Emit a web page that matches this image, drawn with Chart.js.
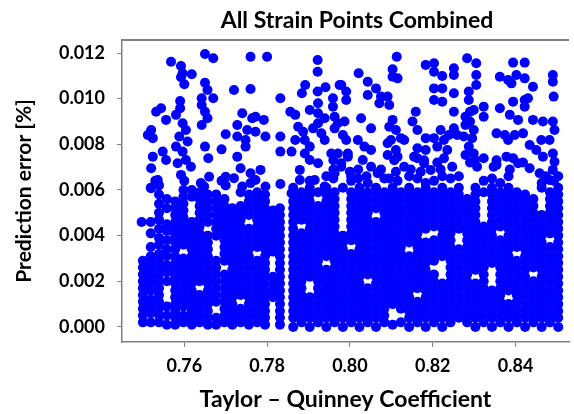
<!DOCTYPE html>
<html>
<head>
<meta charset="utf-8">
<script src="https://cdn.jsdelivr.net/npm/chart.js@4/dist/chart.umd.min.js"></script>
<style>
  html, body { margin: 0; padding: 0; background: #fff; }
</style>
</head>
<body>
<canvas id="chart" width="574" height="414"></canvas>
<script>
const chartTitle = 'All Strain Points Combined';
const xAxisTitle = 'Taylor – Quinney Coefficient';
const yAxisTitle = 'Prediction error [%]';
const xTicks = [0.76, 0.78, 0.80, 0.82, 0.84];
const yTicks = [0, 0.002, 0.004, 0.006, 0.008, 0.010, 0.012];

// scattered points above the dense band: [coefficient, error]
const upperPoints = [
  [0.7568,0.01162],[0.7650,0.01196],[0.7670,0.01177],[0.7760,0.01184],[0.7800,0.01184],
  [0.7592,0.01143],[0.7596,0.01111],[0.7592,0.01094],[0.7618,0.01107],[0.7600,0.01063],
  [0.7650,0.01070],[0.7656,0.01038],[0.7670,0.01002],
  [0.7642,0.01002],[0.7642,0.00972],[0.7650,0.00943],[0.7656,0.00914],[0.7642,0.00885],
  [0.7720,0.01038],[0.7760,0.01042],[0.7832,0.01002],
  [0.7544,0.00958],[0.7532,0.00943],[0.7590,0.00990],[0.7590,0.00958],[0.7580,0.00929],
  [0.7556,0.00907],[0.7520,0.00863],[0.7512,0.00841],[0.7524,0.00827],
  [0.7740,0.00936],[0.7764,0.00914],[0.7792,0.00907],[0.7772,0.00921],
  [0.7728,0.00885],[0.7752,0.00863],[0.7772,0.00855],[0.7796,0.00834],[0.7728,0.00834],[0.7748,0.00819],[0.7748,0.00790],
  [0.7700,0.00844],[0.7690,0.00778],[0.7650,0.00790],[0.7658,0.00739],[0.7728,0.00746],
  [0.7832,0.00834],[0.7832,0.00768],[0.7832,0.00626],
  [0.7596,0.00892],[0.7604,0.00863],[0.7588,0.00834],[0.7608,0.00812],[0.7580,0.00790],[0.7596,0.00768],
  [0.7604,0.00731],[0.7584,0.00717],[0.7616,0.00702],[0.7592,0.00666],
  [0.7524,0.00746],[0.7548,0.00768],[0.7520,0.00695],[0.7556,0.00731],[0.7536,0.00644],[0.7520,0.00608],
  [0.7736,0.00695],[0.7760,0.00673],[0.7784,0.00688],[0.7772,0.00644],[0.7796,0.00615],[0.7740,0.00615],[0.7720,0.00651],
  [0.7700,0.00658],[0.7660,0.00658],[0.7648,0.00615],[0.7497,0.00460],
  [0.7640,0.00630],[0.7700,0.00620],[0.7760,0.00630],[0.7600,0.00640],[0.7530,0.00640],[0.7690,0.00640],
  [0.7856,0.00943],[0.7868,0.00929],[0.7892,0.01060],[0.7884,0.01024],[0.7922,0.01169],[0.7922,0.01118],
  [0.7922,0.01031],[0.7941,0.01050],[0.7975,0.01060],
  [0.7923,0.00980],[0.7903,0.00950],[0.7923,0.00936],[0.7939,0.00914],
  [0.7959,0.01002],[0.7959,0.00965],[0.7963,0.00921],[0.7963,0.00870],
  [0.7875,0.00877],[0.7887,0.00855],[0.7868,0.00819],[0.7891,0.00819],[0.7911,0.00870],[0.7903,0.00790],
  [0.7859,0.00768],[0.7891,0.00760],[0.7923,0.00892],[0.7931,0.00848],[0.7939,0.00819],
  [0.7903,0.00731],[0.7923,0.00717],[0.7879,0.00688],[0.7879,0.00644],[0.7859,0.00586],
  [0.7955,0.00760],[0.7979,0.00717],[0.7995,0.00746],[0.7963,0.00673],[0.7939,0.00615],[0.7915,0.00644],
  [0.8113,0.01184],[0.8103,0.01129],[0.8103,0.01096],[0.8115,0.01089],[0.8021,0.01111],
  [0.8043,0.01074],[0.8063,0.01045],[0.8043,0.01016],[0.8075,0.01009],[0.8091,0.01009],[0.8071,0.00980],[0.8095,0.00972],
  [0.7979,0.01060],[0.7991,0.01031],[0.7991,0.00994],
  [0.8183,0.01148],[0.8203,0.01155],[0.8203,0.01118],[0.8223,0.01099],[0.8251,0.01133],[0.8251,0.01104],
  [0.8203,0.01045],[0.8223,0.01045],[0.8203,0.00994],[0.8223,0.00987],[0.8251,0.01024],[0.8251,0.00943],
  [0.8283,0.01177],[0.8305,0.01155],[0.8305,0.01104],[0.8305,0.01060],[0.8287,0.01031],[0.8287,0.00994],
  [0.8299,0.00950],[0.8323,0.00965],[0.8323,0.00921],[0.8279,0.00921],
  [0.8394,0.01158],[0.8422,0.01158],
  [0.8362,0.01096],[0.8382,0.01082],[0.8402,0.01104],[0.8422,0.01089],[0.8442,0.01052],[0.8390,0.01067],
  [0.8490,0.01104],[0.8490,0.01074],[0.8492,0.01009],
  [0.8394,0.00987],[0.8422,0.00994],[0.8430,0.01002],[0.8422,0.00965],[0.8362,0.00958],[0.8386,0.00929],[0.8406,0.00907],
  [0.8442,0.00907],[0.8466,0.00900],[0.8490,0.00900],[0.8494,0.00863],[0.8482,0.00819],[0.8462,0.00819],
  [0.8159,0.00943],[0.8151,0.00900],[0.8163,0.00863],[0.8183,0.00827],
  [0.8103,0.00907],[0.8095,0.00877],[0.8111,0.00863],[0.8099,0.00819],[0.8123,0.00827],[0.8131,0.00819],
  [0.8051,0.00870],[0.8027,0.00914],
  [0.8219,0.00863],[0.8203,0.00827],[0.8227,0.00819],[0.8239,0.00841],
  [0.8290,0.00943],[0.8290,0.00900],[0.8279,0.00885],[0.8299,0.00863],[0.8275,0.00834],[0.8295,0.00827],
  [0.8251,0.00870],[0.8259,0.00841],
  [0.8354,0.00848],[0.8374,0.00841],[0.8398,0.00841],[0.8382,0.00819],[0.8418,0.00848],[0.8434,0.00797],
  [0.7971,0.00892],[0.7987,0.00900],[0.7983,0.00841],[0.7991,0.00819],
  [0.8019,0.00819],[0.8035,0.00790],[0.8051,0.00775],
  [0.8091,0.00805],[0.8111,0.00775],[0.8091,0.00753],
  [0.8163,0.00783],[0.8183,0.00775],[0.8163,0.00739],
  [0.8211,0.00790],[0.8235,0.00775],
  [0.8287,0.00790],[0.8299,0.00760],[0.8279,0.00753],[0.8302,0.00731],[0.8323,0.00739],
  [0.8354,0.00710],[0.8378,0.00746],[0.8394,0.00739],[0.8406,0.00717],
  [0.8450,0.00775],[0.8466,0.00746],[0.8490,0.00760],[0.8494,0.00724],
  [0.7971,0.00760],[0.7995,0.00760],[0.7979,0.00702],[0.8003,0.00658],
  [0.8031,0.00731],[0.8051,0.00702],[0.8067,0.00673],
  [0.8115,0.00746],[0.8131,0.00702],[0.8111,0.00680],
  [0.8155,0.00746],[0.8179,0.00717],[0.8195,0.00688],
  [0.8227,0.00739],[0.8247,0.00702],[0.8307,0.00702],[0.8347,0.00702],
  [0.8434,0.00695],[0.8458,0.00673],[0.8490,0.00688],[0.8482,0.00644],
  [0.8003,0.00640],[0.8083,0.00650],[0.8143,0.00660],[0.8203,0.00640],[0.8263,0.00660],[0.8323,0.00640],
  [0.8383,0.00660],[0.8503,0.00660],[0.7903,0.00640],[0.7943,0.00660],[0.8043,0.00630],
  [0.8183,0.00630],[0.8363,0.00630],[0.8463,0.00630],
  [0.7960,0.00690],[0.8000,0.00680],[0.8020,0.00690],[0.8075,0.00690],[0.8147,0.00690],[0.8171,0.00680],
  [0.8219,0.00690],[0.8386,0.00690],
  [0.7960,0.00730],[0.8107,0.00730],[0.8179,0.00730],[0.8211,0.00720],[0.8290,0.00720],[0.8354,0.00730],[0.8418,0.00720],
  [0.7960,0.00650],[0.8020,0.00650],[0.8040,0.00660],[0.8095,0.00650],[0.8115,0.00640],[0.8163,0.00650],
  [0.8223,0.00660],[0.8243,0.00650],[0.8343,0.00650],[0.8473,0.00660],[0.8493,0.00640]
];

// dense band below ~0.006, one column of errors per coefficient
const bandCoeffs = [
  0.7500,0.7519,0.7539,0.7558,0.7578,0.7598,0.7618,0.7637,0.7657,0.7677,0.7697,0.7716,0.7736,0.7756,0.7776,0.7795,0.7814,0.7831,
  0.7863,0.7883,0.7903,0.7923,0.7943,0.7963,0.7983,0.8003,0.8023,0.8043,0.8063,0.8083,0.8103,0.8123,0.8143,0.8163,0.8183,
  0.8203,0.8223,0.8243,0.8263,0.8283,0.8303,0.8323,0.8343,0.8363,0.8383,0.8403,0.8423,0.8443,0.8463,0.8483,0.8503
];
const bandErrors = [
  [.0002,.0005,.0008,.0011,.0014,.0017,.0020,.0023,.0026,.0029],
  [.0002,.0006,.0009,.0012,.0016,.0019,.0022,.0025,.0028,.0031,.0035,.0041,.0046,.0061],
  [.0002,.0005,.0008,.0011,.0014,.0017,.0020,.0023,.0026,.0029,.0032,.0036,.0039,.0043,.0047,.0050,.0054,.0058,.0062],
  [.0001,.0005,.0009,.0020,.0024,.0027,.0031,.0034,.0038,.0042,.0045,.0052,.0056],
  [.0001,.0004,.0007,.0010,.0013,.0016,.0019,.0022,.0025,.0028,.0031,.0034,.0037,.0040,.0043,.0046,.0049,.0052,.0055],
  [.0002,.0005,.0009,.0012,.0015,.0018,.0021,.0024,.0027,.0030,.0036,.0039,.0042,.0045,.0048,.0051,.0054,.0057,.0060],
  [.0001,.0004,.0007,.0010,.0013,.0016,.0019,.0022,.0025,.0028,.0031,.0034,.0037,.0040,.0043,.0046,.0057,.0060],
  [.0002,.0005,.0008,.0011,.0014,.0020,.0023,.0026,.0029,.0032,.0035,.0038,.0041,.0044,.0047,.0050,.0053,.0056,.0059],
  [.0001,.0004,.0007,.0010,.0013,.0016,.0019,.0022,.0025,.0028,.0031,.0034,.0037,.0040,.0046,.0049,.0052,.0055,.0058],
  [.0001,.0004,.0011,.0014,.0017,.0020,.0023,.0026,.0029,.0040,.0043,.0046,.0049,.0052,.0055,.0058],
  [.0002,.0005,.0008,.0011,.0014,.0017,.0020,.0023,.0029,.0032,.0035,.0038,.0041,.0044,.0047,.0050,.0053,.0056],
  [.0001,.0004,.0007,.0010,.0013,.0016,.0019,.0022,.0025,.0028,.0031,.0034,.0037,.0040,.0043,.0046,.0049,.0052],
  [.0002,.0005,.0008,.0014,.0017,.0020,.0023,.0026,.0029,.0032,.0035,.0038,.0041,.0044,.0047,.0050,.0053,.0059],
  [.0001,.0004,.0007,.0010,.0013,.0016,.0019,.0022,.0025,.0028,.0031,.0034,.0037,.0040,.0043,.0049,.0052,.0055,.0058],
  [.0002,.0005,.0008,.0011,.0014,.0017,.0020,.0023,.0026,.0029,.0035,.0038,.0041,.0044,.0047,.0050,.0053,.0056,.0059],
  [.0001,.0004,.0007,.0010,.0013,.0016,.0019,.0022,.0025,.0028,.0031,.0034,.0037,.0040,.0043,.0046,.0049,.0052,.0055,.0058],
  [.0013,.0016,.0019,.0022,.0033,.0036,.0039,.0042,.0045,.0048,.0051],
  [.0001,.0004,.0007,.0010,.0013,.0016,.0019,.0022,.0025,.0028,.0031,.0034,.0037,.0040,.0043,.0046,.0049,.0052],
  [.0000,.0004,.0007,.0010,.0013,.0016,.0019,.0022,.0025,.0028,.0031,.0034,.0037,.0040,.0043,.0046,.0049,.0052,.0055,.0058,.0061],
  [.0002,.0005,.0008,.0011,.0014,.0017,.0020,.0023,.0026,.0029,.0032,.0035,.0038,.0041,.0047,.0050,.0053,.0056,.0059],
  [.0000,.0004,.0007,.0010,.0013,.0022,.0025,.0028,.0031,.0034,.0037,.0040,.0043,.0046,.0049,.0052,.0055,.0058,.0061],
  [.0002,.0005,.0008,.0011,.0014,.0017,.0020,.0023,.0026,.0029,.0032,.0035,.0038,.0041,.0044,.0047,.0050,.0053,.0059],
  [.0000,.0004,.0007,.0010,.0013,.0016,.0019,.0022,.0025,.0031,.0034,.0037,.0040,.0043,.0046,.0049,.0052,.0055,.0058,.0061],
  [.0002,.0005,.0008,.0011,.0014,.0017,.0020,.0023,.0026,.0029,.0032,.0035,.0038,.0041,.0044,.0047,.0050,.0053,.0056,.0059],
  [.0000,.0004,.0007,.0010,.0013,.0016,.0019,.0022,.0025,.0028,.0031,.0034,.0037,.0040,.0061],
  [.0002,.0005,.0008,.0011,.0014,.0017,.0020,.0023,.0026,.0029,.0032,.0038,.0041,.0044,.0047,.0050,.0053,.0056,.0059],
  [.0000,.0004,.0007,.0010,.0013,.0016,.0019,.0022,.0025,.0028,.0031,.0034,.0037,.0040,.0043,.0046,.0049,.0052,.0055,.0058,.0061],
  [.0002,.0005,.0008,.0011,.0014,.0017,.0023,.0026,.0029,.0032,.0035,.0038,.0041,.0044,.0047,.0050,.0053,.0056,.0059],
  [.0000,.0004,.0007,.0010,.0013,.0016,.0019,.0022,.0025,.0028,.0031,.0034,.0037,.0040,.0043,.0046,.0052,.0055,.0058,.0061],
  [.0002,.0005,.0008,.0011,.0014,.0017,.0020,.0023,.0026,.0029,.0032,.0035,.0038,.0041,.0044,.0047,.0050,.0053,.0056,.0059],
  [.0001,.0010,.0013,.0016,.0019,.0022,.0025,.0028,.0031,.0034,.0037,.0040,.0043,.0046,.0049,.0052,.0055,.0058,.0061],
  [.0002,.0008,.0011,.0014,.0017,.0020,.0023,.0026,.0029,.0032,.0035,.0038,.0041,.0044,.0047,.0050,.0053,.0056,.0059],
  [.0000,.0004,.0007,.0010,.0013,.0016,.0019,.0022,.0025,.0028,.0031,.0037,.0040,.0043,.0046,.0049,.0052,.0055,.0058,.0061],
  [.0002,.0005,.0008,.0011,.0017,.0020,.0023,.0026,.0029,.0032,.0035,.0038,.0041,.0044,.0047,.0050,.0053,.0056,.0059],
  [.0000,.0004,.0007,.0010,.0013,.0016,.0019,.0022,.0025,.0028,.0031,.0034,.0037,.0043,.0046,.0049,.0052,.0055,.0058,.0061],
  [.0002,.0005,.0008,.0011,.0014,.0017,.0020,.0023,.0029,.0032,.0035,.0038,.0044,.0047,.0050,.0053,.0056,.0059],
  [.0000,.0004,.0007,.0010,.0013,.0016,.0019,.0031,.0034,.0037,.0040,.0043,.0046,.0049,.0052,.0055,.0058,.0061],
  [.0002,.0005,.0008,.0011,.0014,.0017,.0020,.0023,.0026,.0029,.0032,.0035,.0038,.0041,.0044,.0047,.0050,.0053,.0056,.0059],
  [.0004,.0007,.0010,.0013,.0016,.0019,.0022,.0025,.0028,.0031,.0034,.0043,.0046,.0049,.0052,.0055,.0058,.0061],
  [.0002,.0005,.0008,.0011,.0014,.0017,.0020,.0023,.0026,.0029,.0032,.0035,.0038,.0041,.0044,.0047,.0050,.0053,.0056],
  [.0000,.0004,.0007,.0010,.0013,.0016,.0019,.0025,.0028,.0031,.0034,.0037,.0040,.0043,.0046,.0049,.0052,.0055,.0058,.0061],
  [.0002,.0005,.0008,.0011,.0014,.0017,.0020,.0023,.0026,.0029,.0032,.0035,.0038,.0041,.0044,.0059],
  [.0000,.0004,.0007,.0010,.0013,.0016,.0028,.0031,.0034,.0037,.0040,.0043,.0046,.0049,.0052,.0055,.0058,.0061],
  [.0002,.0005,.0008,.0011,.0014,.0017,.0020,.0023,.0026,.0029,.0032,.0035,.0038,.0044,.0047,.0050,.0053,.0056,.0059],
  [.0000,.0004,.0007,.0010,.0016,.0019,.0022,.0025,.0028,.0031,.0034,.0037,.0040,.0043,.0046,.0049,.0052,.0055,.0058,.0061],
  [.0002,.0005,.0008,.0011,.0014,.0017,.0020,.0023,.0026,.0029,.0035,.0038,.0041,.0044,.0047,.0050,.0053,.0056,.0059],
  [.0000,.0004,.0007,.0010,.0013,.0016,.0019,.0022,.0025,.0028,.0031,.0034,.0037,.0040,.0043,.0046,.0049,.0052,.0055,.0058],
  [.0002,.0005,.0008,.0011,.0014,.0017,.0020,.0026,.0029,.0032,.0035,.0038,.0041,.0044,.0047,.0050,.0053,.0056],
  [.0000,.0004,.0007,.0010,.0013,.0016,.0019,.0022,.0025,.0028,.0031,.0034,.0037,.0040,.0043,.0046,.0049,.0061],
  [.0002,.0005,.0008,.0011,.0014,.0017,.0020,.0023,.0026,.0029,.0032,.0035,.0041,.0044,.0047,.0050,.0053,.0056,.0059],
  [.0000,.0004,.0007,.0010,.0013,.0016,.0019,.0022,.0025,.0028,.0031,.0034,.0037,.0040,.0043,.0046,.0049,.0052,.0055,.0058,.0061]
];

const points = upperPoints.map(([x, y]) => ({ x, y }));
bandCoeffs.forEach((x, i) => {
  bandErrors[i].forEach(y => points.push({ x, y }));
});

const boldFont = size => ({ family: 'Lato', size: size, weight: 'bold' });

// top frame line and the chart heading
const framePlugin = {
  id: 'frame',
  afterDraw(chart) {
    const { ctx, chartArea } = chart;
    ctx.save();
    ctx.strokeStyle = '#808080';
    ctx.lineWidth = 2;
    ctx.beginPath();
    ctx.moveTo(chartArea.left, chartArea.top);
    ctx.lineTo(chartArea.right, chartArea.top);
    ctx.stroke();
    ctx.fillStyle = '#000';
    ctx.font = 'bold 23px Lato';
    ctx.textAlign = 'center';
    ctx.textBaseline = 'middle';
    ctx.fillText(chartTitle, 357, 21);
    ctx.restore();
  }
};

new Chart(document.getElementById('chart'), {
  type: 'scatter',
  data: {
    datasets: [{
      data: points,
      backgroundColor: '#0000ff',
      borderWidth: 0,
      pointRadius: 5,
      pointHoverRadius: 5
    }]
  },
  options: {
    responsive: false,
    animation: false,
    events: [],
    layout: { padding: { top: 40, left: 0, right: 0, bottom: 0 } },
    plugins: {
      legend: { display: false },
      tooltip: { enabled: false }
    },
    scales: {
      x: {
        type: 'linear',
        min: 0.74496,
        max: 0.8529,
        afterBuildTicks: scale => { scale.ticks = xTicks.map(v => ({ value: v })); },
        afterFit: scale => { scale.height = 72; },
        grid: { drawOnChartArea: false, drawTicks: true, tickLength: 5, color: '#808080' },
        border: { display: true, color: '#808080', width: 1.5 },
        ticks: { padding: 8, color: '#000', font: boldFont(18), callback: v => v.toFixed(2) },
        title: { display: true, text: xAxisTitle, color: '#000', font: boldFont(23), padding: { top: 0, bottom: 1 } }
      },
      y: {
        type: 'linear',
        min: -0.00066,
        max: 0.01257,
        afterBuildTicks: scale => { scale.ticks = yTicks.map(v => ({ value: v })); },
        afterFit: scale => { scale.width = 122; },
        grid: { drawOnChartArea: false, drawTicks: true, tickLength: 5, color: '#808080' },
        border: { display: true, color: '#808080', width: 1.5 },
        ticks: { padding: 12, color: '#000', font: boldFont(18), callback: v => v.toFixed(3) },
        title: { display: true, text: yAxisTitle, color: '#000', font: boldFont(21), padding: { top: 12, bottom: 0 } }
      }
    }
  },
  plugins: [framePlugin]
});
</script>
</body>
</html>
